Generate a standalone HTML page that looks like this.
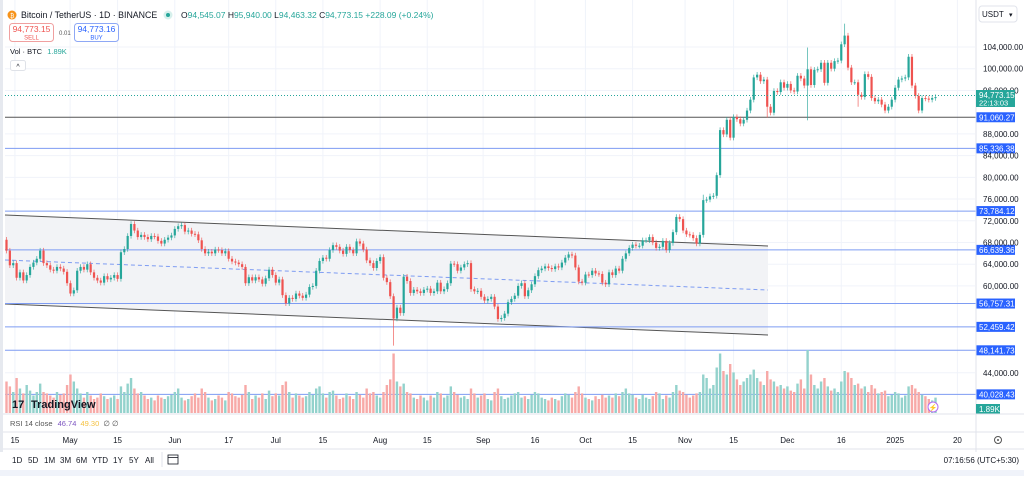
<!DOCTYPE html>
<html><head><meta charset="utf-8">
<style>
html,body{margin:0;padding:0;background:#fff;}
body{width:1024px;height:476px;overflow:hidden;font-family:"Liberation Sans",sans-serif;}
svg text{font-family:"Liberation Sans",sans-serif;}
</style></head>
<body>
<svg id="chart" width="1024" height="476" viewBox="0 0 1024 476" xmlns="http://www.w3.org/2000/svg">
  <rect x="0" y="0" width="1024" height="476" fill="#ffffff"/>
  <rect x="0" y="0" width="3" height="452" fill="#e6e9ef"/>
  <g id="grid"></g>
  <g id="channel">
    <polygon points="5,215 768,246 768,335 5,304" fill="#f2f3f6"/>
    <line x1="5" y1="215" x2="768" y2="246" stroke="#555" stroke-width="1"/>
    <line x1="5" y1="304" x2="768" y2="335" stroke="#555" stroke-width="1"/>
    <line x1="5" y1="260" x2="768" y2="290" stroke="#7e9cf2" stroke-width="1" stroke-dasharray="4,3"/>
  </g>
  <g id="levels"></g>
  <g id="volume"></g>
  <g id="candles"></g>
  <line x1="5" y1="95.5" x2="975" y2="95.5" stroke="#26a69a" stroke-width="1" stroke-dasharray="1,2"/>
  <line x1="976" y1="0" x2="976" y2="452" stroke="#e0e3eb"/>
  <g id="yaxis"></g>
  <g>
    <rect x="979" y="6" width="38" height="16" rx="3" fill="#fff" stroke="#e0e3eb"/>
    <text x="982" y="17" font-size="8" fill="#131722">USDT</text>
    <text x="1009" y="17" font-size="7" fill="#131722">▾</text>
  </g>
  <g>
    <rect x="976" y="90" width="39" height="17" fill="#26a69a"/>
    <text x="979" y="98" font-size="8" fill="#fff">94,773.15</text>
    <text x="979" y="105.5" font-size="7.5" fill="#fff">22:13:03</text>
  </g>
  <g>
    <rect x="976" y="404" width="24" height="10" fill="#26a69a"/>
    <text x="979" y="412" font-size="8" fill="#fff">1.89K</text>
  </g>
  <g>
    <circle cx="12" cy="15" r="4.5" fill="#f7931a"/>
    <text x="10" y="18" font-size="6" fill="#fff">₿</text>
    <text x="21" y="18" font-size="8.8" fill="#131722">Bitcoin / TetherUS · 1D · BINANCE</text>
    <circle cx="168" cy="15" r="4.5" fill="#d6f0ec"/>
    <circle cx="168" cy="15" r="2" fill="#26a69a"/>
  </g>
  <text x="181" y="18" font-size="8.5" fill="#131722">O<tspan fill="#26a69a">94,545.07</tspan> H<tspan fill="#26a69a">95,940.00</tspan> L<tspan fill="#26a69a">94,463.32</tspan> C<tspan fill="#26a69a">94,773.15</tspan> <tspan fill="#26a69a">+228.09 (+0.24%)</tspan></text>
  <g>
    <rect x="9.5" y="23.5" width="44" height="18" rx="3" fill="#fff" stroke="#f0a0a0"/>
    <text x="31.5" y="32" font-size="8.5" fill="#ef5350" text-anchor="middle">94,773.15</text>
    <text x="31.5" y="39.5" font-size="6" fill="#ef5350" text-anchor="middle">SELL</text>
  </g>
  <text x="59" y="35" font-size="6" fill="#555">0.01</text>
  <g>
    <rect x="74.5" y="23.5" width="44" height="18" rx="3" fill="#fff" stroke="#8ea8f5"/>
    <text x="96.5" y="32" font-size="8.5" fill="#2962ff" text-anchor="middle">94,773.16</text>
    <text x="96.5" y="39.5" font-size="6" fill="#2962ff" text-anchor="middle">BUY</text>
  </g>
  <text x="10" y="54" font-size="7.5" fill="#131722">Vol · BTC <tspan fill="#26a69a" dx="3">1.89K</tspan></text>
  <g>
    <rect x="10.5" y="60.5" width="15" height="10" rx="2" fill="#fff" stroke="#dfe2e8"/>
    <text x="18" y="69" font-size="7" fill="#131722" text-anchor="middle">^</text>
  </g>
  <g>
    <text x="12" y="408" font-size="11" font-weight="bold" fill="#131722">17</text>
    <text x="31" y="408" font-size="11" font-weight="bold" fill="#131722">TradingView</text>
  </g>
  <g>
    <circle cx="933" cy="407" r="5" fill="#fff" stroke="#b36cf0"/>
    <text x="933" y="410" font-size="7" fill="#b36cf0" text-anchor="middle">⚡</text>
  </g>
  <line x1="3" y1="414" x2="1024" y2="414" stroke="#e0e3eb"/>
  <text x="10" y="426" font-size="7.5" fill="#555">RSI 14 close <tspan fill="#7e57c2" dx="3">46.74</tspan> <tspan fill="#f5c242" dx="2">49.30</tspan> <tspan fill="#555" dx="2">∅ ∅</tspan></text>
  <line x1="3" y1="432" x2="1024" y2="432" stroke="#e0e3eb"/>
  <g id="xaxis"></g>
  <g>
    <circle cx="998" cy="440" r="3.5" fill="none" stroke="#555" stroke-width="1"/>
    <circle cx="998" cy="440" r="1" fill="#555"/>
  </g>
  <line x1="3" y1="449" x2="1024" y2="449" stroke="#e0e3eb"/>
  <g id="ranges"></g>
  <g>
    <line x1="162" y1="452" x2="162" y2="467" stroke="#e0e3eb"/>
    <rect x="168" y="455" width="10" height="9" fill="none" stroke="#131722" stroke-width="0.8"/>
    <line x1="168" y1="457.5" x2="178" y2="457.5" stroke="#131722" stroke-width="0.8"/>
  </g>
  <text x="1019" y="463" font-size="8" fill="#131722" text-anchor="end">07:16:56 (UTC+5:30)</text>
  <rect x="0" y="470" width="1024" height="6" fill="#f0f3fa"/>
</svg>
<script>
const closes = [66.5,63.8,64.2,61.5,62.5,61.0,62.0,63.5,64.3,65.0,
66.5,64.2,63.8,63.0,62.8,63.5,63.2,62.6,60.5,58.6,
59.2,62.8,63.5,63.0,64.0,62.5,61.5,61.0,60.6,61.8,
61.2,61.5,62.0,61.3,66.2,66.8,69.2,71.4,70.2,69.0,
69.4,69.0,68.6,69.2,69.1,68.3,67.8,68.5,68.9,69.3,
70.5,71.0,71.2,70.0,70.2,69.6,69.5,68.4,66.8,66.0,
66.3,66.0,66.7,66.6,66.0,66.4,65.0,64.5,64.3,64.0,
63.5,60.5,61.6,61.0,61.6,61.2,60.4,61.4,63.0,62.0,
60.6,61.2,58.3,56.8,57.8,57.6,58.6,58.2,57.8,58.4,
59.8,60.0,62.8,64.6,65.2,65.0,66.6,67.5,67.2,66.5,
65.9,67.2,66.6,66.0,68.2,67.8,66.7,64.7,64.2,63.3,
64.6,65.3,61.5,60.7,58.1,54.0,56.0,55.0,61.7,60.9,
58.7,59.3,59.0,58.7,59.3,59.5,58.7,59.0,60.6,59.0,
59.4,60.5,64.1,64.0,62.8,63.4,64.0,64.2,59.4,59.0,
59.1,58.0,57.3,57.6,58.0,56.2,53.9,54.1,54.9,57.0,
57.6,58.2,60.0,60.5,58.1,59.2,60.3,61.8,62.9,63.2,
63.6,63.3,63.1,63.6,63.4,64.3,65.2,65.8,65.6,63.4,
60.8,60.6,62.1,62.0,62.8,62.3,62.2,60.6,60.3,62.5,
62.0,63.2,62.8,65.0,66.0,67.0,67.6,67.4,67.4,68.4,
68.4,69.0,68.0,67.0,67.2,68.3,66.6,67.9,69.9,72.7,
72.3,70.2,69.5,69.4,68.8,67.8,69.4,75.8,75.9,76.5,
76.6,80.4,88.7,87.9,90.6,87.3,91.1,90.7,89.9,90.6,
92.3,94.3,98.4,98.9,97.7,98.0,93.0,91.9,95.9,95.7,
97.5,96.5,97.2,96.0,95.8,98.7,98.2,96.9,99.9,97.0,
99.8,99.9,101.1,97.4,101.1,100.0,101.4,101.5,104.5,106.1,
100.2,97.5,97.5,95.2,94.8,99.0,98.5,94.6,94.0,94.3,
93.4,92.3,93.0,94.3,96.5,98.0,98.2,98.4,102.2,96.9,
95.0,92.3,94.6,94.5,94.3,94.6,94.77];
const firstOpen = 68.5;
const extraLows = {115:49.0, 238:90.5, 226:91.0, 253:93.0};
const extraHighs = {238:103.9, 249:108.3, 207:76.8, 268:102.7};
const volumes = [45,38,30,50,35,28,40,32,25,30,
42,30,28,25,22,30,26,28,40,55,
45,35,28,22,30,25,20,22,28,24,
20,22,25,20,38,30,42,50,35,28,
30,25,20,22,18,25,22,20,24,26,
30,35,22,18,20,24,28,22,35,30,
22,18,20,25,22,18,30,28,24,22,
26,40,30,20,25,22,28,20,32,24,
28,25,40,45,30,22,28,25,22,24,
30,26,35,38,28,22,30,32,25,20,
22,28,24,20,30,26,22,35,28,30,
25,22,30,40,48,85,45,38,42,30,
28,22,20,25,22,18,25,22,30,28,
22,25,38,30,26,22,24,20,35,28,
22,25,28,20,18,30,35,24,20,22,
25,28,30,22,24,20,26,30,28,22,
20,18,22,20,18,24,28,26,22,30,
38,28,22,20,18,24,20,26,22,25,
22,28,24,30,35,28,26,22,20,26,
22,20,24,30,28,20,25,22,30,40,
32,30,26,22,25,28,30,55,50,35,
40,65,85,60,55,70,58,48,40,45,
50,55,62,50,45,40,60,48,45,38,
40,35,38,32,30,42,48,35,90,55,
40,35,45,50,38,32,35,30,45,60,
58,50,40,42,35,38,30,40,35,28,
30,32,24,26,30,28,22,25,38,40,
35,30,26,24,20,18,22];
const priceTicks = [104,100,96,88,84,80,76,72,68,64,60,44];
const levelValues = [91060.27,85336.38,73784.12,66639.36,56757.31,52459.42,48141.73,40028.43];
const dateLabels = ["15","May","15","Jun","17","Jul","15","Aug","15","Sep","16","Oct","15","Nov","15","Dec","16","2025","20"];
const dateDayIdx = [2.5,18.9,33,50,66,80,94,111,125,141.6,157,172,186,201.6,216,232,248,264,282.5];
const rangeLabels = ["1D","5D","1M","3M","6M","YTD","1Y","5Y","All"];
const rangeX = [12,28,44,60,76,92,113,129,145];

const NS="http://www.w3.org/2000/svg";
function xOf(i){return 6.5+i*3.366;}
function yOf(k){return 47+(104-k)*5.43;}
function mk(tag,attrs,parent){const e=document.createElementNS(NS,tag);for(const k in attrs)e.setAttribute(k,attrs[k]);parent.appendChild(e);return e;}
const fmt=v=>v.toLocaleString('en-US',{minimumFractionDigits:2,maximumFractionDigits:2});

const grid=document.getElementById('grid');
priceTicks.forEach(t=>{const l=mk('line',{x1:5,x2:975,y1:yOf(t),y2:yOf(t),stroke:'#f0f3fa'},grid);

});
dateDayIdx.forEach(d=>{const l=mk('line',{x1:xOf(d),x2:xOf(d),y1:0,y2:413,stroke:'#f0f3fa'},grid);

});

const yaxis=document.getElementById('yaxis');
priceTicks.forEach(t=>{const tx=mk('text',{x:983,y:yOf(t)+3,'font-size':8,fill:'#131722'},yaxis);tx.textContent=fmt(t*1000);

});

const lv=document.getElementById('levels');
levelValues.forEach((v,i)=>{const y=yOf(v/1000);
const l=mk('line',{x1:5,x2:976,y1:y,y2:y,stroke:i===0?'#555':'#7e9cf2','stroke-width':1},lv);


const r=mk('rect',{x:976,y:y-5,width:39,height:10,fill:'#2962ff'},lv);


const t=mk('text',{x:979,y:y+3,'font-size':8,fill:'#fff'},lv);t.textContent=fmt(v);

});

const cg=document.getElementById('candles'), vg=document.getElementById('volume');
closes.forEach((c,i)=>{const o=i===0?firstOpen:closes[i-1];const up=c>=o;
const hi=extraHighs[i]!==undefined?extraHighs[i]:Math.max(o,c)+0.5;
const lo=extraLows[i]!==undefined?extraLows[i]:Math.min(o,c)-0.5;
const x=xOf(i),col=up?'#26a69a':'#ef5350';
const w=mk('line',{x1:x,x2:x,y1:yOf(hi),y2:yOf(lo),stroke:col,'stroke-width':0.8,opacity:0.8},cg);


const top=yOf(Math.max(o,c)),h=Math.max(1,yOf(Math.min(o,c))-top);
const b=mk('rect',{x:x-1.1,y:top,width:2.2,height:h,fill:col},cg);


const vh=volumes[i]*0.7;
const vb=mk('rect',{x:x-1.2,y:413-vh,width:2.4,height:vh,fill:up?'#93d2cc':'#f7a9a7'},vg);

});

const xa=document.getElementById('xaxis');
dateLabels.forEach((d,i)=>{const t=mk('text',{x:xOf(dateDayIdx[i]),y:443,'font-size':8,fill:'#131722','text-anchor':'middle'},xa);t.textContent=d;

});

const rg=document.getElementById('ranges');
rangeLabels.forEach((r,i)=>{const t=mk('text',{x:rangeX[i],y:463,'font-size':8,fill:'#131722'},rg);t.textContent=r;

});
</script>
</body></html>
